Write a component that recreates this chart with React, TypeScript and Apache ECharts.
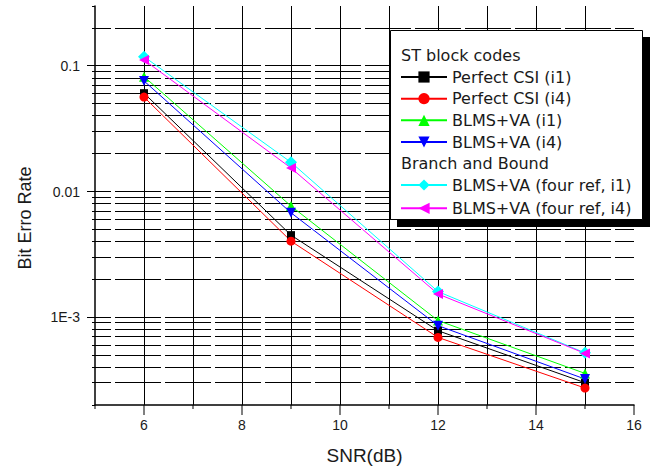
import React, { useEffect, useRef } from "react";
import * as echarts from "echarts";

// ---- data ----
const snr = [6, 9, 12, 15];
const perfectCsiI1 = [0.0607, 0.0045, 0.00078, 0.000301];
const perfectCsiI4 = [0.0565, 0.00403, 0.00069, 0.000273];
const blmsVaI1 = [0.0822, 0.00767, 0.00094, 0.000357];
const blmsVaI4 = [0.076, 0.00678, 0.000856, 0.000322];
const fourRefI1 = [0.1185, 0.0171, 0.0016, 0.00052];
const fourRefI4 = [0.1116, 0.0154, 0.00153, 0.000515];

const seriesNames = [
  "Perfect CSI (i1)",
  "Perfect CSI (i4)",
  "BLMS+VA (i1)",
  "BLMS+VA (i4)",
  "BLMS+VA (four ref, i1)",
  "BLMS+VA (four ref, i4)",
];
const legendHeaders = ["ST block codes", "Branch and Bound"];

// ---- axes ----
const xMin = 5;
const xMax = 16;
const xTickValues = [5, 6, 7, 8, 9, 10, 11, 12, 13, 14, 15, 16];
const yMin = 0.0002;
const yMax = 0.3;
const yMajorTicks = [0.001, 0.01, 0.1];
const yTickLabels = ["1E-3", "0.01", "0.1"];
const yGridValues = [
  0.0002, 0.0003, 0.0004, 0.0005, 0.0006, 0.0007, 0.0008, 0.0009,
  0.001, 0.002, 0.003, 0.004, 0.005, 0.006, 0.007, 0.008, 0.009,
  0.01, 0.02, 0.03, 0.04, 0.05, 0.06, 0.07, 0.08, 0.09,
  0.1, 0.2, 0.3,
];

const TICK_FONT = "Liberation Sans";
const LEGEND_FONT = "DejaVu Sans";
const TEXT_COLOR = "#1a1a1a";

const sameLog = (a: number, b: number) =>
  Math.abs(Math.log10(a) - Math.log10(b)) < 1e-6;
const isMajor = (v: number) => yMajorTicks.some((t) => sameLog(t, v));
const crisp = (n: number) => Math.round(n - 0.5) + 0.5;

const pairs = (ys: number[]) => snr.map((x, i) => [x, ys[i]]);

export default function App() {
  const ref = useRef<HTMLDivElement>(null);

  useEffect(() => {
    if (!ref.current) return;
    const chart = echarts.init(ref.current, undefined, { renderer: "svg" });

    const lineSeries = (
      name: string,
      ys: number[],
      color: string,
      symbol: string,
      size: number,
      rotate = 0
    ) => ({
      name,
      type: "line",
      data: pairs(ys),
      symbol,
      symbolSize: size,
      symbolRotate: rotate,
      z: 3,
      lineStyle: { color, width: 1 },
      itemStyle: { color },
    });

    const legendCommon = {
      orient: "vertical",
      left: 400,
      padding: 0,
      itemWidth: 46,
      itemHeight: 14,
      textStyle: {
        fontFamily: LEGEND_FONT,
        fontSize: 16,
        color: TEXT_COLOR,
      },
      selectedMode: false,
    };

    const option: any = {
      animation: false,
      backgroundColor: "#fff",
      grid: { left: 95, right: 22, top: 6, bottom: 63, containLabel: false },
      xAxis: {
        type: "value",
        min: xMin,
        max: xMax,
        interval: 1,
        axisLine: { show: true, lineStyle: { color: "#000", width: 1.5 } },
        axisTick: { show: false },
        splitLine: {
          show: true,
          showMinLine: false,
          showMaxLine: false,
          lineStyle: { color: "#000", width: 1 },
        },
        axisLabel: {
          margin: 13,
          fontFamily: TICK_FONT,
          fontSize: 14,
          color: TEXT_COLOR,
          formatter: (v: number) => (v % 2 === 0 ? String(v) : ""),
        },
        name: "SNR(dB)",
        nameLocation: "middle",
        nameGap: 41,
        nameTextStyle: { fontFamily: TICK_FONT, fontSize: 19, color: TEXT_COLOR },
      },
      yAxis: {
        type: "log",
        logBase: 10,
        min: yMin,
        max: yMax,
        axisLine: { show: true, lineStyle: { color: "#000", width: 1.5 } },
        axisTick: { show: false },
        splitLine: { show: false },
        axisLabel: {
          margin: 15,
          showMinLabel: false,
          showMaxLabel: false,
          fontFamily: TICK_FONT,
          fontSize: 14,
          color: TEXT_COLOR,
          formatter: (v: number) => {
            const i = yMajorTicks.findIndex((t) => sameLog(t, v));
            return i >= 0 ? yTickLabels[i] : "";
          },
        },
      },
      legend: [
        { ...legendCommon, top: 69, itemGap: 5.67, data: seriesNames.slice(0, 4) },
        { ...legendCommon, top: 177, itemGap: 7.3, data: seriesNames.slice(4) },
      ],
      graphic: [
        {
          type: "rect",
          z: 3,
          shape: { x: 397, y: 37, width: 253, height: 190 },
          style: { fill: "#000" },
        },
        {
          type: "rect",
          z: 3,
          shape: { x: 390.5, y: 30.5, width: 252, height: 189 },
          style: { fill: "#fff", stroke: "#000", lineWidth: 1 },
        },
        {
          type: "text",
          z: 5,
          x: 401,
          y: 55,
          style: {
            text: legendHeaders[0],
            font: `16px "${LEGEND_FONT}"`,
            fill: TEXT_COLOR,
            align: "left",
            verticalAlign: "middle",
          },
        },
        {
          type: "text",
          z: 5,
          x: 401,
          y: 163,
          style: {
            text: legendHeaders[1],
            font: `16px "${LEGEND_FONT}"`,
            fill: TEXT_COLOR,
            align: "left",
            verticalAlign: "middle",
          },
        },
        {
          type: "text",
          z: 5,
          x: 25,
          y: 218,
          rotation: Math.PI / 2,
          style: {
            text: "Bit Erro Rate",
            font: `18px "${TICK_FONT}"`,
            fill: TEXT_COLOR,
            align: "center",
            verticalAlign: "middle",
          },
        },
      ],
      series: [
        {
          type: "custom",
          z: 1,
          silent: true,
          clip: false,
          data: yGridValues.map((v) => [xMin, v]),
          renderItem: (_p: any, api: any) => {
            const v = api.value(1);
            const a = api.coord([xMin, v]);
            const b = api.coord([xMax, v]);
            const y = crisp(a[1]);
            const children: any[] = [];
            const edge = sameLog(v, yMin) || sameLog(v, yMax);
            if (!edge) {
              children.push({
                type: "line",
                shape: { x1: a[0], y1: y, x2: b[0], y2: y },
                style: {
                  stroke: "#000",
                  lineWidth: 1,
                  lineDash: [46, 4],
                  lineDashOffset: 30,
                },
              });
            }
            const len = isMajor(v) ? 8 : 3;
            children.push({
              type: "line",
              shape: { x1: a[0] - len, y1: y, x2: a[0], y2: y },
              style: { stroke: "#000", lineWidth: 1 },
            });
            return { type: "group", children };
          },
        },
        {
          type: "custom",
          z: 1,
          silent: true,
          clip: false,
          data: xTickValues.map((x) => [x, yMin]),
          renderItem: (_p: any, api: any) => {
            const x = api.value(0);
            const p = api.coord([x, yMin]);
            const len = x % 2 === 0 ? 10 : 4;
            return {
              type: "line",
              shape: { x1: p[0], y1: p[1], x2: p[0], y2: p[1] + len },
              style: { stroke: "#000", lineWidth: 1 },
            };
          },
        },
        lineSeries(seriesNames[0], perfectCsiI1, "#000000", "rect", 8),
        lineSeries(seriesNames[1], perfectCsiI4, "#ff0000", "circle", 9),
        lineSeries(seriesNames[2], blmsVaI1, "#00ff00", "triangle", 10),
        lineSeries(seriesNames[3], blmsVaI4, "#0000ff", "triangle", 10, 180),
        lineSeries(seriesNames[4], fourRefI1, "#00ffff", "diamond", 12),
        lineSeries(seriesNames[5], fourRefI4, "#ff00ff", "triangle", 10, 90),
      ],
    };

    chart.setOption(option);
    return () => chart.dispose();
  }, []);

  return (
    <div
      ref={ref}
      style={{
        position: "fixed",
        left: 0,
        top: 0,
        width: 656,
        height: 470,
        background: "#fff",
      }}
    />
  );
}
